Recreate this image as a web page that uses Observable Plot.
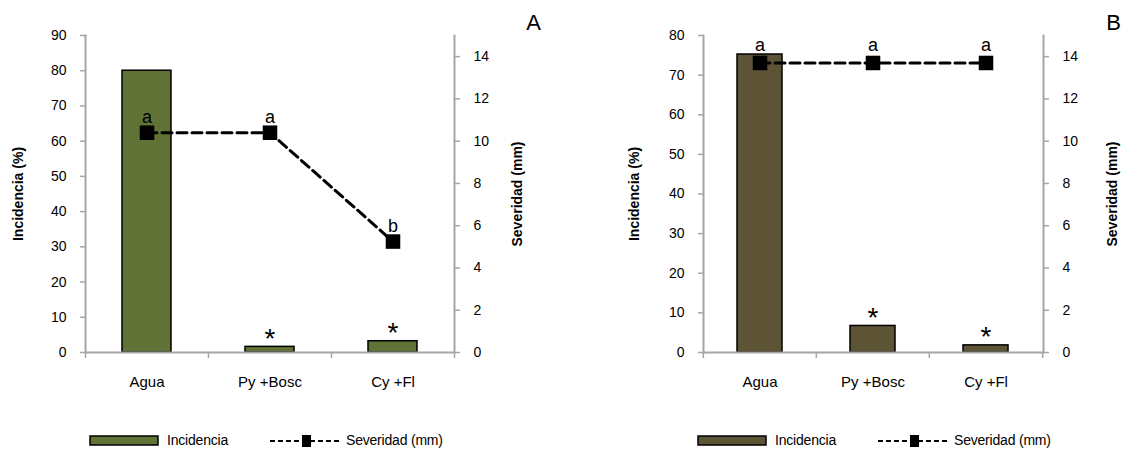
<!DOCTYPE html>
<html><head><meta charset="utf-8">
<script src="https://cdn.jsdelivr.net/npm/d3@7"></script>
<script src="https://cdn.jsdelivr.net/npm/@observablehq/plot@0.6"></script>
<style>
body{margin:0;background:#fff;}
#wrap{position:relative;width:1122px;height:449px;overflow:hidden;}
.panel{position:absolute;top:0;}
#legend{position:absolute;left:0;top:400px;}
</style></head><body><div id="wrap"></div>
<script>
const categories = ["Agua", "Py +Bosc", "Cy +Fl"];
const incidenciaA = [80, 1.6, 3.2];
const severidadA = [10.4, 10.4, 5.25];
const letrasA = ["a", "a", "b"];
const marcasA = ["", "*", "*"];
const incidenciaB = [75.2, 6.7, 1.8];
const severidadB = [13.7, 13.7, 13.7];
const letrasB = ["a", "a", "a"];
const marcasB = ["", "*", "*"];
const leftTicksA = [0, 10, 20, 30, 40, 50, 60, 70, 80, 90];
const leftTicksB = [0, 10, 20, 30, 40, 50, 60, 70, 80];
const rightTicks = [0, 2, 4, 6, 8, 10, 12, 14];
const rightMax = 15;

const SANS = '"Liberation Sans",Arial,sans-serif';
const AX = "#a6a6a6";

function panel(o) {
  const k = o.yMax / rightMax;
  const rows = categories.map((c, i) => ({cat: c, inc: o.inc[i], sev: o.sev[i] * k, letter: o.letters[i], mark: o.marks[i]}));
  const step = (o.width - o.ml - o.mr) / categories.length;
  return Plot.plot({
    width: o.width, height: 400,
    marginLeft: o.ml, marginRight: o.mr, marginTop: 35, marginBottom: 48,
    style: {fontFamily: SANS, fontSize: "14px", color: "#000", background: "transparent", overflow: "visible"},
    x: {domain: categories, paddingInner: 0.6, paddingOuter: 0.3, axis: null},
    y: {domain: [0, o.yMax], axis: null},
    marks: [
      Plot.frame({anchor: "left", stroke: AX, strokeWidth: 2}),
      Plot.frame({anchor: "right", stroke: AX, strokeWidth: 2}),
      Plot.axisY({ticks: o.yTicks, tickSize: 5, tickPadding: 14, stroke: AX, strokeWidth: 1.5, fill: "#000", label: null, tickFormat: d => d, fontSize: 14}),
      Plot.axisY({anchor: "right", ticks: rightTicks.map(v => v * k), tickFormat: d => Math.round(d / k), tickSize: 5, tickPadding: 14, stroke: AX, strokeWidth: 1.5, fill: "#000", label: null, fontSize: 14}),
      Plot.axisX({tickSize: 6, tickFormat: () => "", dx: -step / 2, stroke: AX, strokeWidth: 1.5, label: null}),
      Plot.axisX({ticks: [categories[categories.length - 1]], tickSize: 6, tickFormat: () => "", dx: step / 2, stroke: AX, strokeWidth: 1.5, label: null}),
      Plot.axisX({tickSize: 0, tickPadding: 24, label: null, fontSize: 15, fill: "#000"}),
      Plot.barY(rows, {x: "cat", y: "inc", fill: o.fill, stroke: "#000", strokeWidth: 1.5}),
      Plot.ruleY([0], {stroke: AX, strokeWidth: 2}),
      Plot.line(rows, {x: "cat", y: "sev", stroke: "#000", strokeWidth: 3, strokeDasharray: "10,5"}),
      Plot.dot(rows, {x: "cat", y: "sev", symbol: "square", r: 8.2, fill: "#000", stroke: "none"}),
      Plot.text(rows, {x: "cat", y: "sev", text: "letter", dy: o.letterDy, fontSize: 18}),
      Plot.text(rows, {x: "cat", y: "inc", text: "mark", dy: -8, fontSize: 28}),
      Plot.text(["Incidencia (%)"], {frameAnchor: "left", dx: o.incDx, rotate: -90, fontWeight: "bold", fontSize: 14, letterSpacing: "-0.4px", textAnchor: "middle", lineAnchor: "middle"}),
      Plot.text(["Severidad (mm)"], {frameAnchor: "right", dx: o.sevDx, rotate: -90, fontWeight: "bold", fontSize: 14, letterSpacing: "-0.4px", textAnchor: "middle", lineAnchor: "middle"}),
      Plot.text([o.label], {frameAnchor: "top-right", dx: o.labelDx, dy: -13, fontSize: 22, textAnchor: "middle", lineAnchor: "middle"})
    ]
  });
}

const wrap = document.getElementById("wrap");
const pA = panel({inc: incidenciaA, sev: severidadA, letters: letrasA, marks: marcasA, yMax: 90, yTicks: leftTicksA,
  fill: "#617236", label: "A", width: 561, ml: 85, mr: 107, incDx: -67, sevDx: 63, labelDx: 79, letterDy: -15});
const pB = panel({inc: incidenciaB, sev: severidadB, letters: letrasB, marks: marcasB, yMax: 80, yTicks: leftTicksB,
  fill: "#5d5436", label: "B", width: 561, ml: 142, mr: 79, incDx: -69, sevDx: 69, labelDx: 70, letterDy: -18});
pA.classList.add("panel"); pA.style.left = "0px";
pB.classList.add("panel"); pB.style.left = "561px";
wrap.appendChild(pA); wrap.appendChild(pB);

// legend below the charts
const ns = "http://www.w3.org/2000/svg";
const lg = document.createElementNS(ns, "svg");
lg.setAttribute("id", "legend"); lg.setAttribute("width", 1122); lg.setAttribute("height", 49);
function legendGroup(off, fill) {
  return `<g transform="translate(${off},0)" font-family='${SANS}' font-size="14" letter-spacing="-0.2">
    <rect x="90" y="36" width="68" height="9" fill="${fill}" stroke="#000" stroke-width="1.5"/>
    <text x="167" y="41" dominant-baseline="middle">Incidencia</text>
    <line x1="270" x2="340" y1="41" y2="41" stroke="#000" stroke-width="2" stroke-dasharray="5,3"/>
    <rect x="302" y="35" width="9" height="12" fill="#000"/>
    <text x="346" y="41" dominant-baseline="middle">Severidad (mm)</text>
  </g>`;
}
lg.innerHTML = legendGroup(0, "#617236") + legendGroup(608, "#5d5436");
wrap.appendChild(lg);
</script></body></html>
